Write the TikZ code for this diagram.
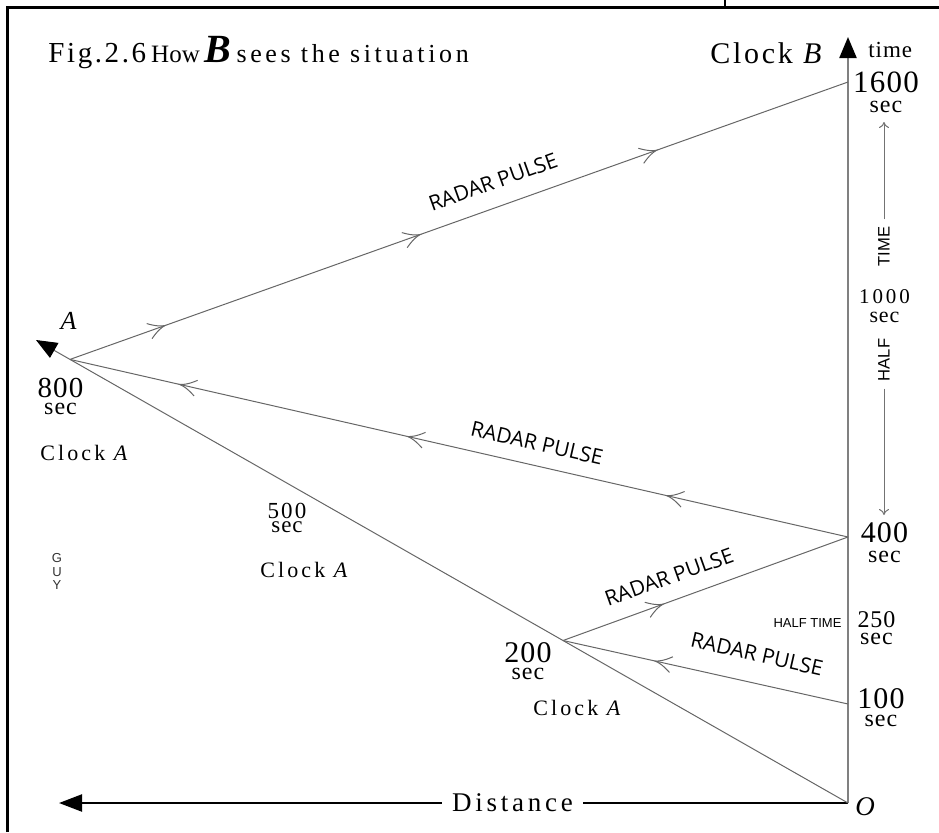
\documentclass[tikz,border=0pt]{standalone}
\usepackage{fontspec}
\setmainfont{Liberation Serif}
\newfontfamily\lsA[LetterSpace=4]{Liberation Serif}
\newfontfamily\lsB[LetterSpace=14]{Liberation Serif}
\newfontfamily\lsC[LetterSpace=9]{Liberation Serif}
\newfontfamily\rpfont{Open Sans}
\newfontfamily\hsfont{Liberation Sans}
\usetikzlibrary{arrows.meta,decorations.markings}
\newcommand{\fsz}[1]{\fontsize{#1}{#1}\selectfont}
\newcommand{\fszb}[2]{\fontsize{#1}{#2}\selectfont}
\newcommand{\barbmark}{\draw[black!60, line width=0.5pt]
  (-8.25pt,4pt) .. controls (-4.5pt,1.3pt) and (-2pt,0.3pt) .. (0pt,0pt)
  .. controls (-2pt,-0.3pt) and (-4.5pt,-1.3pt) .. (-8.25pt,-4pt);}
\tikzset{
  frame/.style={line width=1.5pt, black},
  lbl/.style={inner sep=0pt, anchor=base},
  lblw/.style={inner sep=0pt, anchor=base west},
  pulse/.style={draw=black!60, line width=0.5pt},
  taxis/.style={draw=black!50, line width=1.1pt},
  daxis/.style={draw=black, line width=1.1pt},
  half/.style={draw=black!55, line width=0.5pt},
  htext/.style={inner xsep=3.5pt, inner ysep=0pt, font=\hsfont\fsz{8.3}},
  rp/.style={inner sep=0pt, font=\rpfont\fsz{10.5}},
  numsec/.style={inner sep=0pt, anchor=south, align=center},
  clk/.style={lblw, font=\lsB\fsz{11}},
  mk/.style={postaction={decorate, decoration={markings,
      mark=at position #1 with {\barbmark}}}},
  bigtip/.style={-{Triangle[length=10.5pt,width=8.5pt,color=black,fill=black]}},
  smalltip/.style={-{Computer Modern Rightarrow[length=3pt,width=5pt]}}
}
\begin{document}
\begin{tikzpicture}[x=0.5pt,y=-0.5pt]
\useasboundingbox (0,0) rectangle (939,832);
% frame of the page
\draw[frame] (7.5,832) -- (7.5,7.5) -- (939,7.5);
\draw[frame, line width=1pt] (725,0) -- (725,7.5);

% events
\coordinate (O) at (848,803);
\coordinate (p100) at (848,704);
\coordinate (p400) at (848,537);
\coordinate (p1600) at (848,82);
\coordinate (pA) at (70,359.4);
\coordinate (p200) at (563,640.5);
\coordinate (Atip) at (36,340);
\coordinate (tEnd) at (848,37);
\coordinate (dEnd) at (59,803);

% title
\node[lblw] (title) at (48,62) {{\lsC\fsz{14.5}Fig.2.6} {\fsz{12.5}How} {\fsz{20}\bfseries\itshape B} {\lsB\fsz{13}sees the situation}};

% axes
\draw[taxis, bigtip] (O) -- (tEnd);
\node[lbl, inner xsep=5pt, font=\lsB\fsz{13.5}] (Distance) at (512.5,811) {Distance};
\draw[daxis] (O) -- (Distance.east |- O);
\draw[daxis, -{Triangle[length=11.5pt,width=8.5pt]}] (Distance.west |- O) -- (dEnd);

% world line of A
\draw[pulse, bigtip] (O) -- (Atip);

% radar pulses
\draw[pulse, mk=0.122, mk=0.45, mk=0.754] (pA) -- (p1600);
\draw[pulse, mk=0.233, mk=0.566, mk=0.859] (p400) -- (pA);
\draw[pulse, mk=0.351] (p200) -- (p400);
\draw[pulse, mk=0.677] (p100) -- (p200);

\node[rp, rotate=19.7] (rp1) at (493,182) {RADAR PULSE};
\node[rp, rotate=-12.9] (rp2) at (537,443) {RADAR PULSE};
\node[rp, rotate=19.7] (rp3) at (669,577) {RADAR PULSE};
\node[rp, rotate=-12.8] (rp4) at (757,654) {RADAR PULSE};

% clock B labels
\node[lblw, font=\lsC\fsz{15}] (clockB) at (710,63) {Clock \textit{B}};
\node[lblw, font=\lsA\fsz{11.5}] (time) at (868,57) {time};
\node[numsec, font=\lsA\fszb{12}{10}] (n1600) at (886,113) {{\fsz{15.5}1600}\\sec};
\node[numsec, font=\lsA\fszb{11}{9.5}] (n1000) at (884.5,323) {{\lsB\fsz{10.5}1000}\\sec};
\node[numsec, font=\lsA\fszb{12}{10}] (n400) at (884.5,563) {{\fsz{15}400}\\sec};
\node[numsec, font=\lsA\fszb{12}{8.5}] (n250) at (876.5,645) {{\fsz{12}250}\\sec};
\node[numsec, font=\lsA\fszb{12}{9}] (n100) at (881,727) {{\fsz{15}100}\\sec};
\node[lbl, font=\fsz{13.5}\itshape] (Olbl) at (865,815) {O};

% half time marks
\node[htext, rotate=90] (TIME) at (884,246.5) {TIME};
\node[htext, rotate=90] (HALF) at (884,360) {HALF};
\coordinate (htTop) at (884,122);
\coordinate (htBot) at (884,515);
\draw[half, smalltip] (TIME) -- (htTop);
\draw[half, smalltip] (HALF) -- (htBot);
\node[lbl, font=\hsfont\fsz{6.5}] (halftime) at (807.5,627) {HALF TIME};

% clock A labels
\node[lbl, font=\fsz{13}\itshape] (Albl) at (68.5,329) {A};
\node[numsec, font=\lsA\fszb{12}{8.5}] (n800) at (60.5,415) {{\fsz{14.5}800}\\sec};
\node[clk] (clockA1) at (40,460) {Clock \textit{A}};
\node[numsec, font=\lsA\fszb{11.5}{7}] (n500) at (287,533) {{\lsC\fsz{11.5}500}\\sec};
\node[clk] (clockA2) at (260,577) {Clock \textit{A}};
\node[numsec, font=\lsA\fszb{12}{8.5}] (n200) at (528,680) {{\fsz{15}200}\\sec};
\node[clk] (clockA3) at (533,715) {Clock \textit{A}};

\node[inner sep=0pt, align=center, font=\hsfont\fszb{6.5}{6.8}, text=black!80] (guy) at (57,571.5) {G\\U\\Y};
\end{tikzpicture}
\end{document}
